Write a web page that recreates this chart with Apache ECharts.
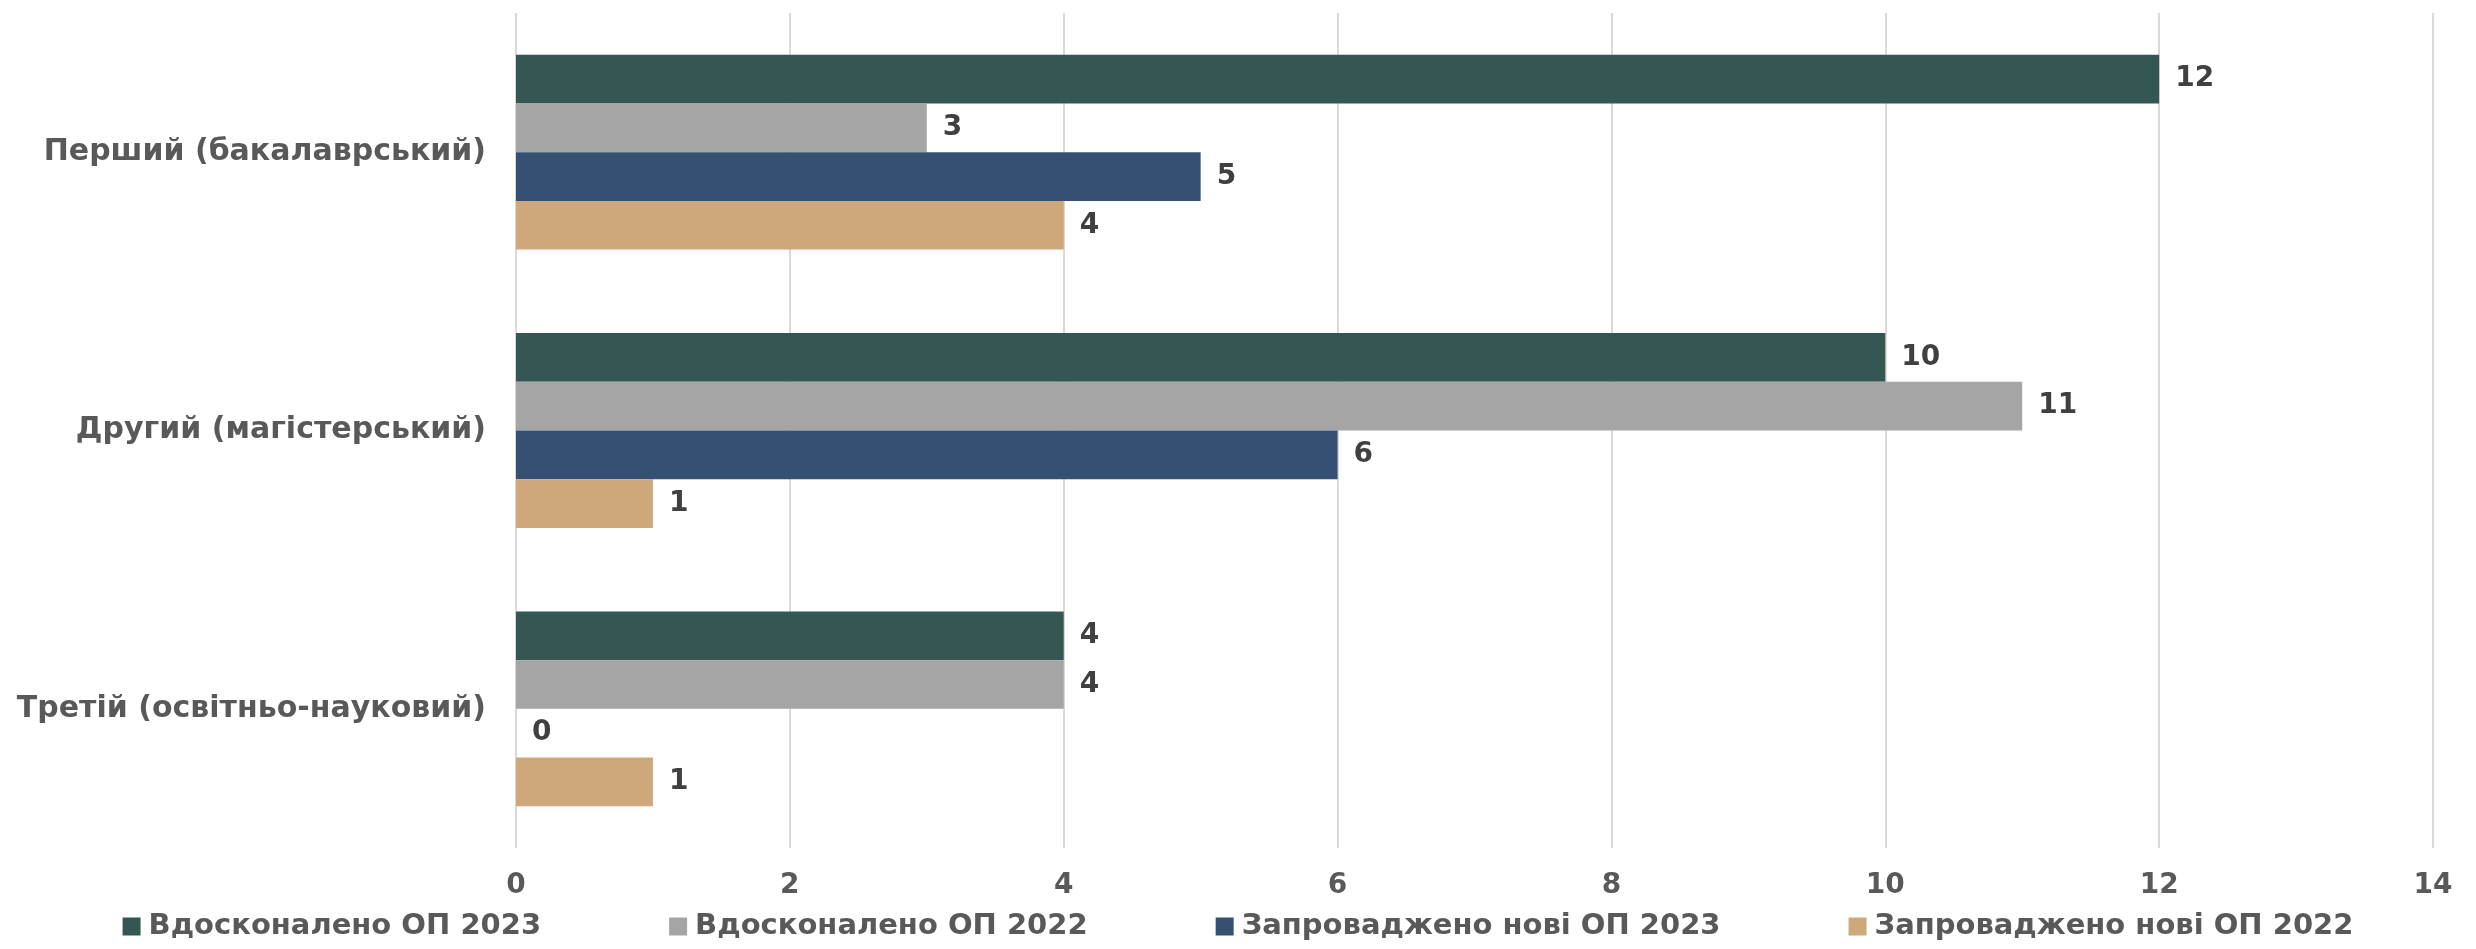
<!DOCTYPE html>
<html>
<head>
<meta charset="utf-8">
<script src="https://cdn.jsdelivr.net/npm/echarts@6/dist/echarts.min.js"></script>
<style>
html,body{margin:0;padding:0;background:#fff;}
#c{width:2476px;height:949px;}
</style>
</head>
<body>
<div id="c"></div>
<script>
const categories = ['Перший (бакалаврський)', 'Другий (магістерський)', 'Третій (освітньо-науковий)'];
const seriesNames = ['Вдосконалено ОП 2023', 'Вдосконалено ОП 2022', 'Запроваджено нові ОП 2023', 'Запроваджено нові ОП 2022'];
const improved2023 = [12, 10, 4];
const improved2022 = [3, 11, 4];
const new2023 = [5, 6, 0];
const new2022 = [4, 1, 1];
const xTicks = [0, 2, 4, 6, 8, 10, 12, 14];
const colors = ['#355754', '#A5A5A5', '#345072', '#CEA77B'];

const values = [improved2023, improved2022, new2023, new2022];
const FONT = 'DejaVu Sans';

const chart = echarts.init(document.getElementById('c'), null, {renderer: 'canvas'});
chart.setOption({
  animation: false,
  textStyle: {fontFamily: FONT},
  grid: {left: 516, right: 43, top: 13, bottom: 101, containLabel: false},
  legend: {
    bottom: 3,
    left: 'center',
    itemWidth: 18,
    itemHeight: 18,
    itemGap: 128,
    icon: 'rect',
    textStyle: {fontFamily: FONT, fontSize: 29, fontWeight: 'bold', color: '#595959', padding: [0, 0, 0, 3]},
    data: seriesNames
  },
  xAxis: {
    type: 'value',
    min: xTicks[0],
    max: xTicks[xTicks.length - 1],
    interval: 2,
    axisLine: {show: false},
    axisTick: {show: false},
    splitLine: {lineStyle: {color: '#D9D9D9', width: 2}},
    axisLabel: {fontFamily: FONT, fontSize: 28, fontWeight: 'bold', color: '#595959', margin: 24}
  },
  yAxis: {
    type: 'category',
    inverse: true,
    data: categories,
    axisLine: {show: false},
    axisTick: {show: false},
    axisLabel: {fontFamily: FONT, fontSize: 30, fontWeight: 'bold', color: '#595959', margin: 30}
  },
  series: seriesNames.map((name, i) => ({
    name: name,
    type: 'bar',
    data: values[i],
    barGap: '0%',
    barCategoryGap: '30%',
    itemStyle: {color: colors[i]},
    label: {
      show: true,
      position: 'right',
      distance: 16,
      fontFamily: FONT,
      fontSize: 28,
      fontWeight: 'bold',
      color: '#404040'
    }
  }))
});
</script>
</body>
</html>
